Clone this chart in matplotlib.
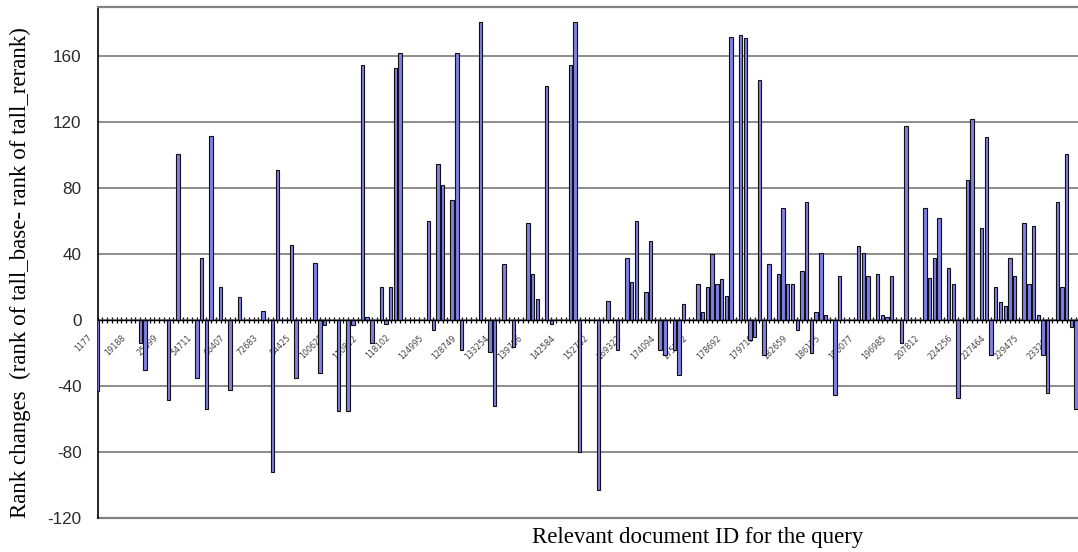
"""
Rank changes per relevant document (tall_base vs tall_rerank)
"""

import numpy as np
import matplotlib
matplotlib.use("Agg")
import matplotlib.pyplot as plt
from matplotlib.transforms import ScaledTranslation

# rank of tall_base - rank of tall_rerank, one entry per relevant document
rank_change = [
    -43, 0, 0, 0, 0, 0, 0, 0, 0, -14,
    -30, 0, 0, 0, 0, -48, 0, 101, 0, 0,
    0, -35, 38, -54, 112, 0, 20, 0, -42, 0,
    14, 0, 0, 0, 0, 6, 0, -92, 91, 0,
    0, 46, -35, 0, 0, 0, 35, -32, -3, 0,
    0, -55, 0, -55, -3, 0, 155, 2, -14, 0,
    20, -2, 20, 153, 162, 0, 0, 0, 0, 0,
    60, -6, 95, 82, 0, 73, 162, -18, 0, 0,
    0, 181, 0, -19, -52, 0, 34, 0, -16, 0,
    0, 59, 28, 13, 0, 142, -2, 0, 0, 0,
    155, 181, -80, 0, 0, 0, -103, 0, 12, 0,
    -18, 0, 38, 23, 60, 0, 17, 48, 0, -18,
    -21, 0, -18, -33, 10, 0, 0, 22, 5, 20,
    40, 22, 25, 15, 172, 0, 173, 171, -12, -10,
    146, -21, 34, 0, 28, 68, 22, 22, -6, 30,
    72, -20, 5, 41, 3, 0, -45, 27, 0, 0,
    0, 45, 41, 27, 0, 28, 3, 2, 27, 0,
    -14, 118, 0, 0, 0, 68, 26, 38, 62, 0,
    32, 22, -47, 0, 85, 122, 0, 56, 111, -21,
    20, 11, 9, 38, 27, 0, 59, 22, 57, 3,
    -21, -44, 0, 72, 20, 101, -4, -54,
]

# document ids shown on the axis (every 7th document)
doc_labels = [
    '1177', '19188', '25899', '54711', '66407', '72683', '84425', '100628',
    '110822', '118102', '124995', '128749', '133254', '139706', '142584',
    '152762', '169322', '174094', '175742', '178692', '179718', '182659',
    '186175', '190077', '196985', '207812', '224256', '227464', '229475',
    '233266',
]
label_step = 7

y_ticks = [-120, -80, -40, 0, 40, 80, 120, 160]


def main():
    values = np.array(rank_change, dtype=float)
    n = len(values)
    idx = np.arange(n)
    nonzero = values != 0

    fig = plt.figure(figsize=(10.78, 5.52), dpi=100)
    ax = fig.add_axes([0.0906, 0.061, 0.9094, 0.9263])

    ax.bar(idx[nonzero], values[nonzero], width=0.72,
           color='#8080e8', edgecolor='#111111', linewidth=0.8, zorder=3)

    ax.set_xlim(0, 207.4)
    ax.set_ylim(-120, 190)

    # y axis / grid
    ax.set_yticks(y_ticks)
    ax.set_yticklabels([str(t) for t in y_ticks], fontsize=12.3,
                       family='Liberation Sans', color='#2a2a2a')
    ax.tick_params(axis='y', length=0, pad=11.5)
    ax.yaxis.grid(True, color='#6e6e6e', linewidth=1.1)
    ax.set_axisbelow(True)
    ax.axhline(-120, color='#808080', linewidth=1.6, clip_on=False, zorder=1)

    ax.spines['right'].set_visible(False)
    ax.spines['top'].set_color('#808080')
    ax.spines['top'].set_linewidth(1.6)
    ax.spines['left'].set_color('black')
    ax.spines['left'].set_linewidth(1.2)
    ax.spines['bottom'].set_position(('data', 0))
    ax.spines['bottom'].set_color('black')
    ax.spines['bottom'].set_linewidth(1.0)
    ax.spines['bottom'].set_zorder(4)

    # category axis sits on zero, one tick per document
    ax.set_xticks(idx)
    labels = [''] * n
    for k, lab in enumerate(doc_labels):
        labels[k * label_step] = lab
    ax.set_xticklabels(labels)
    ax.tick_params(axis='x', direction='inout', length=4, width=0.9,
                   color='black', labelsize=5.8, labelcolor='#444444', pad=0)
    shift = ScaledTranslation(-10 / 100, -10 / 100, fig.dpi_scale_trans)
    for lab in ax.get_xticklabels():
        lab.set_rotation(45)
        lab.set_ha('right')
        lab.set_va('top')
        lab.set_rotation_mode('anchor')
        lab.set_transform(lab.get_transform() + shift)

    fig.text(0.019, 1 - 272.5 / 552,
             'Rank changes  (rank of tall_base- rank of tall_rerank)',
             rotation=90, ha='center', va='center',
             family='Liberation Serif', fontsize=16.5)
    fig.text(697.5 / 1078, 1 - 537 / 552, 'Relevant document ID for the query',
             ha='center', va='center', family='Liberation Serif', fontsize=16.5)

    fig.savefig('out.png', dpi=100)


if __name__ == '__main__':
    main()
